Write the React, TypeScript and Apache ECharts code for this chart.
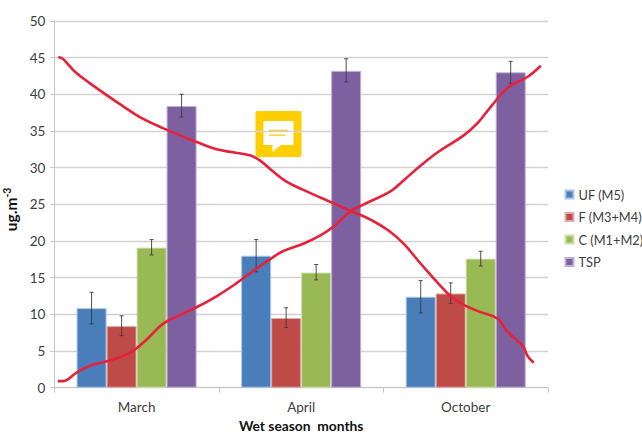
import React, { useEffect, useRef } from "react";
import * as echarts from "echarts";

const categories = ["March", "April", "October"];
const seriesNames = ["UF (M5)", "F (M3+M4)", "C (M1+M2)", "TSP"];
const uf = [10.85, 18, 12.4];
const f = [8.4, 9.5, 12.85];
const c = [19.1, 15.7, 17.6];
const tsp = [38.4, 43.2, 43];
const ufLow = [8.7, 15.8, 10.2];
const ufHigh = [13, 20.2, 14.6];
const fLow = [7.1, 8.2, 11.5];
const fHigh = [9.8, 10.9, 14.3];
const cLow = [18.1, 14.7, 16.6];
const cHigh = [20.2, 16.8, 18.6];
const tspLow = [36.9, 41.7, 41.5];
const tspHigh = [40, 44.85, 44.5];

const fallingX = [0.024, 0.055, 0.095, 0.14, 0.217, 0.318, 0.417, 0.52, 0.66, 0.865, 0.986, 1.085, 1.188, 1.249, 1.328, 1.411, 1.51, 1.62, 1.802, 1.923, 2.033, 2.124, 2.227, 2.33, 2.409, 2.488, 2.591, 2.694, 2.755, 2.846, 2.877, 2.913];
const fallingY = [45.1, 44.8, 43.8, 42.8, 41.5, 39.9, 38.4, 36.9, 35.4, 33.5, 32.5, 32.1, 31.7, 31.0, 29.5, 28.1, 27.0, 25.9, 24.1, 22.9, 21.4, 19.6, 16.9, 14.3, 12.5, 11.3, 10.3, 9.4, 7.6, 5.7, 4.3, 3.4];
const risingX = [0.022, 0.053, 0.138, 0.217, 0.32, 0.417, 0.478, 0.563, 0.66, 0.763, 0.867, 0.988, 1.085, 1.207, 1.31, 1.389, 1.51, 1.62, 1.699, 1.802, 1.881, 2.045, 2.124, 2.227, 2.33, 2.488, 2.573, 2.652, 2.761, 2.877, 2.956];
const risingY = [0.9, 0.9, 2.1, 3.0, 3.6, 4.3, 5.0, 6.6, 8.7, 9.9, 11.0, 12.5, 13.9, 15.9, 17.5, 18.6, 19.6, 20.8, 22.0, 24.1, 25.0, 26.8, 28.3, 30.3, 32.1, 34.4, 36.1, 38.3, 41.0, 42.4, 43.9];

const colors = ["#4A7EBB", "#BE4B48", "#98B954", "#7D60A0"];
const borders = ["#A9C4E4", "#E0A9A8", "#CDDDAC", "#BFB0D2"];
const barW = 30;
const font = "Lato, Carlito, 'Open Sans', sans-serif";

function zip(a: number[], b: number[]) {
  return a.map((v, i) => [v, b[i]]);
}

export default function App() {
  const ref = useRef<HTMLDivElement>(null);
  useEffect(() => {
    const chart = echarts.init(ref.current!, undefined, { renderer: "svg" });
    const values = [uf, f, c, tsp];
    const lows = [ufLow, fLow, cLow, tspLow];
    const highs = [ufHigh, fHigh, cHigh, tspHigh];
    const errData: number[][] = [];
    values.forEach((_, s) =>
      categories.forEach((_c, i) => errData.push([i, lows[s][i], highs[s][i], s]))
    );
    chart.setOption({
      animation: false,
      backgroundColor: "#ffffff",
      textStyle: { fontFamily: font },
      grid: { left: 54.3, right: 94, top: 21, bottom: 45.3, outerBoundsMode: "none" },
      legend: {
        orient: "vertical",
        left: 559.5,
        top: 183,
        itemWidth: 8,
        itemHeight: 8,
        itemGap: 9.5,
        icon: "rect",
        data: seriesNames,
        textStyle: { fontSize: 12.8, color: "#404040", fontFamily: font },
      },
      xAxis: [
        {
          type: "category",
          data: categories,
          name: "Wet season  months",
          nameLocation: "middle",
          nameGap: 31,
          nameTextStyle: { fontSize: 13.8, fontWeight: "bold", color: "#111", fontFamily: font },
          axisLine: { lineStyle: { color: "#c8c8c8", width: 1 } },
          axisTick: { show: true, length: 5, lineStyle: { color: "#c8c8c8" } },
          axisLabel: { fontSize: 13.5, color: "#404040", margin: 12 },
        },
        { type: "value", min: 0, max: 3, show: false },
      ],
      yAxis: {
        type: "value",
        min: 0,
        max: 50,
        interval: 5,
        name: "{a|ug.m}{b|-3}",
        nameLocation: "middle",
        nameRotate: 90,
        nameGap: 30,
        nameTextStyle: {
          padding: [0, 10, 0, 0],
          rich: {
            a: { fontSize: 15.5, fontWeight: "bold", color: "#111", fontFamily: font },
            b: { fontSize: 10.5, fontWeight: "bold", color: "#111", fontFamily: font, padding: [0, 0, 7, 0] },
          },
        },
        axisLine: { show: true, lineStyle: { color: "#c8c8c8", width: 1 } },
        axisTick: { show: true, length: 4, lineStyle: { color: "#c8c8c8" } },
        axisLabel: { fontSize: 13.5, color: "#404040", margin: 9 },
        splitLine: { lineStyle: { color: "#d2d2d2", width: 1.3 } },
      },
      series: [
        ...seriesNames.map((name, s) => ({
          name,
          type: "bar",
          data: values[s],
          barWidth: barW,
          barGap: 0,
          itemStyle: { color: colors[s], borderColor: borders[s], borderWidth: 1 },
        })),
        {
          type: "custom",
          silent: true,
          z: 5,
          data: errData,
          encode: { x: 0, y: [1, 2] },
          renderItem: (_p: any, api: any) => {
            const cat = api.value(0);
            const offset = (api.value(3) - 1.5) * barW;
            const a = api.coord([cat, api.value(1)]);
            const b = api.coord([cat, api.value(2)]);
            const x = a[0] + offset;
            const style = { stroke: "#3c3c3c", lineWidth: 0.9, fill: "none" };
            return {
              type: "group",
              children: [
                { type: "line", shape: { x1: x, y1: a[1], x2: x, y2: b[1] }, style },
                { type: "line", shape: { x1: x - 2, y1: a[1], x2: x + 2, y2: a[1] }, style },
                { type: "line", shape: { x1: x - 2, y1: b[1], x2: x + 2, y2: b[1] }, style },
              ],
            };
          },
        },
        {
          type: "line",
          xAxisIndex: 1,
          data: zip(fallingX, fallingY),
          smooth: 0.4,
          symbol: "none",
          z: 6,
          lineStyle: { color: "#E8213A", width: 2.6 },
        },
        {
          type: "line",
          xAxisIndex: 1,
          data: zip(risingX, risingY),
          smooth: 0.4,
          symbol: "none",
          z: 6,
          lineStyle: { color: "#E8213A", width: 2.6 },
        },
      ],
      graphic: [
        {
          type: "group",
          z: 10,
          children: [
            { type: "rect", shape: { x: 255.5, y: 111, width: 46, height: 46, r: 2 }, style: { fill: "#FFCE00" } },
            {
              type: "polygon",
              shape: { points: [[263.5, 121], [293.5, 121], [293.5, 145], [281, 145], [272.5, 152], [272.5, 145], [263.5, 145]] },
              style: { fill: "#ffffff" },
            },
            { type: "rect", shape: { x: 269, y: 129.7, width: 19, height: 1.3 }, style: { fill: "#FFCE00" } },
            { type: "rect", shape: { x: 269, y: 134.5, width: 16, height: 1.3 }, style: { fill: "#FFCE00" } },
          ],
        },
      ],
    });
    return () => chart.dispose();
  }, []);
  return <div ref={ref} style={{ position: "absolute", left: 0, top: 0, width: 642, height: 433 }} />;
}
